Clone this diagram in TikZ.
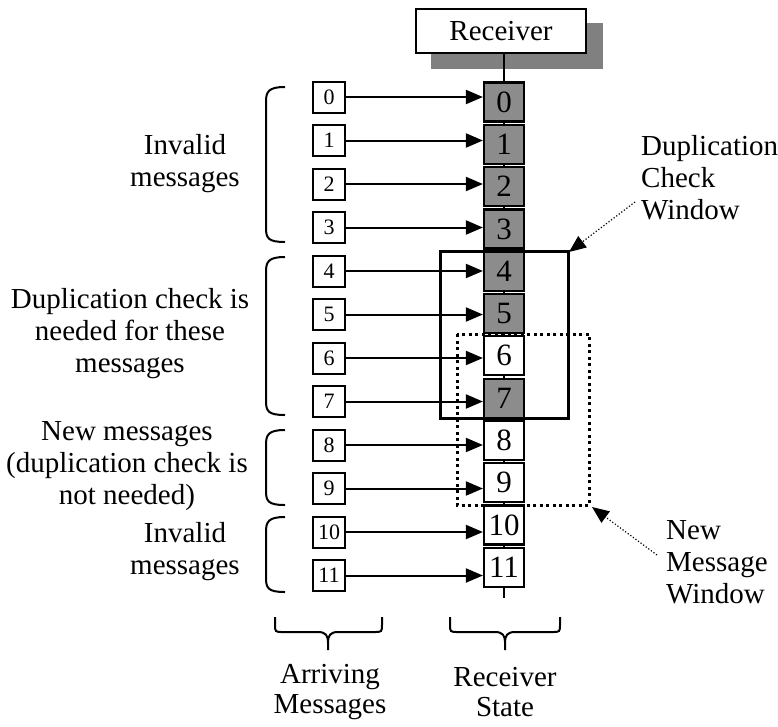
\documentclass[tikz,border=0pt]{standalone}
\usepackage{fontspec}
\setmainfont{Liberation Serif}
\usetikzlibrary{arrows.meta, backgrounds}

\definecolor{cellgray}{RGB}{140,140,140}
\definecolor{shadowgray}{RGB}{128,128,128}

\begin{document}
\begin{tikzpicture}[x=1pt, y=-1pt,
    txt/.style={font=\fontsize{29}{32}\selectfont, align=center, inner sep=0pt},
    cell/.style={draw, fill=white, line width=2.2pt, minimum width=40pt, minimum height=39pt, inner sep=0pt, font=\fontsize{31}{33}\selectfont},
    used/.style={cell, fill=cellgray},
    msg/.style={draw, line width=2pt, minimum width=32pt, minimum height=31pt, inner sep=0pt, font=\fontsize{22}{24}\selectfont},
    recvbox/.style={draw, fill=white, line width=2pt, minimum width=170pt, minimum height=44pt, inner sep=0pt, font=\fontsize{29}{31}\selectfont},
    msgarrow/.style={line width=2pt, -{Triangle[length=17pt, width=14pt]}},
    winarrow/.style={line width=1.2pt, dotted, -{Triangle[length=17pt, width=14pt]}},
    bracket/.style={line width=2pt},
  ]
  \useasboundingbox (0,0) rectangle (778,726);

  % receiver
  \node[recvbox] (recv) at (501,31) {Receiver};

  % receiver state
  \node[used] (c0) at (504,102) {0};
  \node[used] (c1) at (504,144.3) {1};
  \node[used] (c2) at (504,186.6) {2};
  \node[used] (c3) at (504,228.9) {3};
  \node[used] (c4) at (504,271.2) {4};
  \node[used] (c5) at (504,313.5) {5};
  \node[cell] (c6) at (504,355.8) {6};
  \node[used] (c7) at (504,398.1) {7};
  \node[cell] (c8) at (504,440.4) {8};
  \node[cell] (c9) at (504,482.7) {9};
  \node[cell] (c10) at (504,525) {10};
  \node[cell] (c11) at (504,567.3) {11};
  \coordinate (tail) at ([yshift=-10pt]c11.south);

  % ombre + axe
  \begin{scope}[on background layer]
    \fill[shadowgray] ([shift={(16,15)}]recv.south west) rectangle ([shift={(16,15)}]recv.north east);
    \draw[line width=2pt] (c0 |- recv.south) -- (tail);
  \end{scope}

  % arriving messages
  \node[msg] (m0) at (329,97) {0};
  \node[msg] (m1) at (329,140.5) {1};
  \node[msg] (m2) at (329,184) {2};
  \node[msg] (m3) at (329,227.5) {3};
  \node[msg] (m4) at (329,271) {4};
  \node[msg] (m5) at (329,314.5) {5};
  \node[msg] (m6) at (329,358) {6};
  \node[msg] (m7) at (329,401.5) {7};
  \node[msg] (m8) at (329,445) {8};
  \node[msg] (m9) at (329,488.5) {9};
  \node[msg] (m10) at (329,532) {10};
  \node[msg] (m11) at (329,575.5) {11};

  % flèches messages --> état
  \draw[msgarrow] (m0) -- (m0 -| c0.west);
  \draw[msgarrow] (m1) -- (m1 -| c1.west);
  \draw[msgarrow] (m2) -- (m2 -| c2.west);
  \draw[msgarrow] (m3) -- (m3 -| c3.west);
  \draw[msgarrow] (m4) -- (m4 -| c4.west);
  \draw[msgarrow] (m5) -- (m5 -| c5.west);
  \draw[msgarrow] (m6) -- (m6 -| c6.west);
  \draw[msgarrow] (m7) -- (m7 -| c7.west);
  \draw[msgarrow] (m8) -- (m8 -| c8.west);
  \draw[msgarrow] (m9) -- (m9 -| c9.west);
  \draw[msgarrow] (m10) -- (m10 -| c10.west);
  \draw[msgarrow] (m11) -- (m11 -| c11.west);

  % fenêtres
  \draw[line width=3pt] (440,251) rectangle (568,418);
  \draw[line width=3pt, dash pattern=on 3pt off 3.5pt] (457,334) rectangle (589,505);

  % accolades gauches
  \draw[bracket] (285,87) .. controls (268,87) and (266,92) .. (266,102) -- (266,228) .. controls (266,238) and (268,242) .. (285,242);
  \draw[bracket] (285,257) .. controls (268,257) and (266,262) .. (266,272) -- (266,401) .. controls (266,411) and (268,415) .. (285,415);
  \draw[bracket] (285,430) .. controls (268,430) and (266,435) .. (266,445) -- (266,491) .. controls (266,501) and (268,505) .. (285,505);
  \draw[bracket] (285,517) .. controls (268,517) and (266,522) .. (266,532) -- (266,578) .. controls (266,588) and (268,592) .. (285,592);

  % accolades du bas
  \draw[bracket] (275,617) -- (275,624) .. controls (275,632) .. (283,632) -- (318,632) .. controls (326,632) and (328,636) .. (328,642) -- (328,650);
  \draw[bracket] (382,617) -- (382,624) .. controls (382,632) .. (374,632) -- (338,632) .. controls (330,632) and (328,636) .. (328,642);
  \draw[bracket] (450,617) -- (450,624) .. controls (450,632) .. (458,632) -- (495,632) .. controls (503,632) and (505,636) .. (505,642) -- (505,650);
  \draw[bracket] (560,617) -- (560,624) .. controls (560,632) .. (552,632) -- (515,632) .. controls (507,632) and (505,636) .. (505,642);

  % textes
  \node[txt] (inv1) at (185,164) {Invalid\\messages};
  \node[txt] (dupl) at (130,334) {Duplication check is\\needed for these\\messages};
  \node[txt] (new) at (127,466) {New messages\\(duplication check is\\not needed)};
  \node[txt] (inv2) at (185,552) {Invalid\\messages};
  \node[txt, font=\fontsize{29}{30}\selectfont] (arr) at (330,692) {Arriving\\Messages};
  \node[txt, font=\fontsize{29}{30}\selectfont] (rst) at (505,692) {Receiver\\State};
  \node[txt, align=left, anchor=west] (dcw) at (641,178) {Duplication\\Check\\Window};
  \node[txt, align=left, anchor=west] (nmw) at (666,562) {New\\Message\\Window};

  % flèches pointillées vers les fenêtres
  \coordinate (dcwfrom) at (635,202);
  \coordinate (dcwtip) at (569,252);
  \coordinate (nmwfrom) at (657,555);
  \coordinate (nmwtip) at (592,507);
  \draw[winarrow] (dcwfrom) -- (dcwtip);
  \draw[winarrow] (nmwfrom) -- (nmwtip);
\end{tikzpicture}
\end{document}
